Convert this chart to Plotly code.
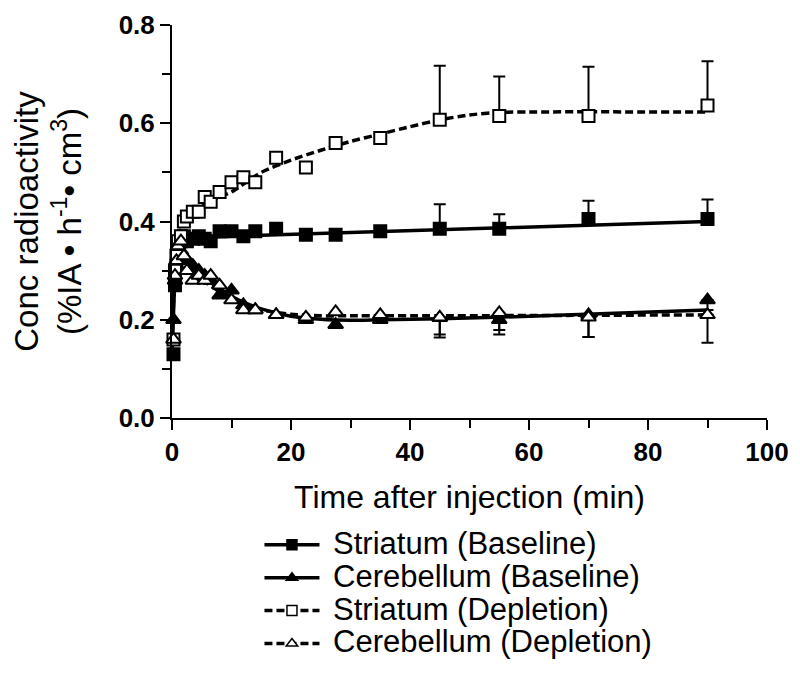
import plotly.graph_objects as go

# ---------------- data ----------------
t_pts = [0.25, 0.5, 0.75, 1, 1.5, 2, 2.5, 3.5, 4.5, 5.5, 6.5, 8, 10, 12, 14,
         17.5, 22.5, 27.5, 35, 45, 55, 70, 90]

str_base = [0.13, 0.27, 0.31, 0.34, 0.36, 0.37, 0.36, 0.365, 0.37, 0.365, 0.36,
            0.38, 0.38, 0.37, 0.38, 0.385, 0.373, 0.373, 0.38, 0.385, 0.385, 0.405, 0.405]
cer_base = [0.20, 0.28, 0.31, 0.33, 0.34, 0.33, 0.32, 0.31, 0.30, 0.29, 0.28,
            0.25, 0.26, 0.23, 0.22, 0.21, 0.20, 0.19, 0.20, 0.204, 0.20, 0.21, 0.24]
str_depl = [0.16, 0.30, 0.33, 0.36, 0.37, 0.40, 0.41, 0.42, 0.42, 0.45, 0.44,
            0.46, 0.48, 0.49, 0.48, 0.53, 0.51, 0.56, 0.57, 0.607, 0.615, 0.615, 0.636]
cer_depl = [0.16, 0.29, 0.32, 0.35, 0.36, 0.33, 0.30, 0.28, 0.29, 0.28, 0.29,
            0.27, 0.24, 0.22, 0.22, 0.21, 0.205, 0.216, 0.21, 0.205, 0.214, 0.205, 0.21]

# error bars (SD) at the last four time points
err_t = [45, 55, 70, 90]
str_base_err_up = [0.05, 0.03, 0.037, 0.04]
str_depl_err_up = [0.11, 0.08, 0.10, 0.09]
cer_base_err_dn = [0.04, 0.03, 0.045, 0.02]
cer_depl_err_dn = [0.035, 0.035, 0.04, 0.057]

# fitted curves
fit_str_base_t = [0, 0.5, 1, 1.5, 2, 4, 10, 90]
fit_str_base_y = [0.12, 0.28, 0.33, 0.35, 0.36, 0.366, 0.37, 0.40]
fit_str_depl_t = [0, 0.5, 1, 1.5, 2, 3, 5, 8, 10, 15, 20, 25, 30, 35, 40, 45, 50, 55, 60, 90]
fit_str_depl_y = [0.15, 0.30, 0.36, 0.385, 0.395, 0.41, 0.43, 0.45, 0.46, 0.50, 0.525,
                  0.545, 0.563, 0.578, 0.593, 0.607, 0.617, 0.622, 0.623, 0.623]
fit_cer_base_t = [0, 0.5, 1, 1.5, 2, 3, 4, 5, 6, 8, 10, 12, 15, 20, 25, 30, 35, 45, 60, 90]
fit_cer_base_y = [0.18, 0.30, 0.33, 0.335, 0.33, 0.315, 0.30, 0.29, 0.28, 0.263, 0.248,
                  0.236, 0.222, 0.207, 0.201, 0.199, 0.20, 0.202, 0.207, 0.22]
fit_cer_depl_t = [0, 0.5, 1, 1.5, 2, 3, 4, 5, 6, 8, 10, 12, 15, 20, 25, 30, 45, 90]
fit_cer_depl_y = [0.20, 0.31, 0.34, 0.34, 0.33, 0.31, 0.295, 0.283, 0.273, 0.257, 0.243,
                  0.232, 0.22, 0.211, 0.208, 0.208, 0.208, 0.21]

names = ["Striatum (Baseline)", "Cerebellum (Baseline)",
         "Striatum (Depletion)", "Cerebellum (Depletion)"]

x_ticks = [0, 20, 40, 60, 80, 100]
y_ticks = [0.0, 0.2, 0.4, 0.6, 0.8]

# ---------------- styling ----------------
FONT = "Liberation Sans, Arial, sans-serif"
LW = 3.5
DASH = "8px,4px"
MS_SQ = 12
MS_TRI = 13
LEG_TXT = 31  # legend text size (rows spaced by the legend font size)

series = [
    dict(name=names[0], y=str_base, ft=fit_str_base_t, fy=fit_str_base_y,
         sym="square", fill="black", dash="solid", ms=MS_SQ,
         err=str_base_err_up, up=True),
    dict(name=names[1], y=cer_base, ft=fit_cer_base_t, fy=fit_cer_base_y,
         sym="triangle-up", fill="black", dash="solid", ms=MS_TRI,
         err=cer_base_err_dn, up=False),
    dict(name=names[2], y=str_depl, ft=fit_str_depl_t, fy=fit_str_depl_y,
         sym="square", fill="white", dash=DASH, ms=MS_SQ,
         err=str_depl_err_up, up=True),
    dict(name=names[3], y=cer_depl, ft=fit_cer_depl_t, fy=fit_cer_depl_y,
         sym="triangle-up", fill="white", dash=DASH, ms=MS_TRI,
         err=cer_depl_err_dn, up=False),
]

fig = go.Figure()

# fitted lines
for s in series:
    fig.add_trace(go.Scatter(x=s["ft"], y=s["fy"], mode="lines",
                             line=dict(color="black", width=LW, dash=s["dash"], shape="spline", smoothing=0.6),
                             showlegend=False, hoverinfo="skip", cliponaxis=False))

# error bars
for s in series:
    n = len(err_t)
    zeros = [0] * n
    ey = dict(type="data", symmetric=False,
              array=s["err"] if s["up"] else zeros,
              arrayminus=zeros if s["up"] else s["err"],
              color="black", thickness=2, width=6)
    fig.add_trace(go.Scatter(x=err_t, y=s["y"][-n:], mode="markers",
                             marker=dict(size=s["ms"], opacity=0),
                             error_y=ey, showlegend=False, hoverinfo="skip"))

# data markers
for s in series:
    fig.add_trace(go.Scatter(x=t_pts, y=s["y"], mode="markers",
                             marker=dict(symbol=s["sym"], size=s["ms"], color=s["fill"],
                                         line=dict(color="black", width=2)),
                             showlegend=False, cliponaxis=False, name=s["name"]))

# legend entries
for s in series:
    fig.add_trace(go.Scatter(x=[None], y=[None], mode="lines+markers",
                             name=f'<span style="font-size:{LEG_TXT}px">&nbsp;{s["name"]}</span>',
                             line=dict(color="black", width=LW, dash=s["dash"]),
                             marker=dict(symbol=s["sym"], size=10, color=s["fill"],
                                         line=dict(color="black", width=1.5))))

axis_common = dict(showline=True, linecolor="black", linewidth=2, ticks="outside",
                   ticklen=10, tickwidth=2, tickcolor="black", showgrid=False,
                   zeroline=False, mirror=False, automargin=False,
                   tickfont=dict(family=FONT, size=26, color="black", weight="bold"))

fig.update_xaxes(range=[0, 100], tickvals=x_ticks, ticktext=[str(v) for v in x_ticks],
                 minor=dict(dtick=10, ticks="outside", ticklen=8, tickwidth=2, tickcolor="black"),
                 title=dict(text="Time after injection (min)",
                            font=dict(family=FONT, size=32, color="black"), standoff=19),
                 **axis_common)
fig.update_yaxes(range=[0, 0.8], tickvals=y_ticks, ticktext=[f"{v:.1f}" for v in y_ticks],
                 minor=dict(dtick=0.1, ticks="outside", ticklen=8, tickwidth=2, tickcolor="black"),
                 title=dict(text="Conc radioactivity<br>(%IA • h<sup>-1</sup>• cm<sup>3</sup>)",
                            font=dict(family=FONT, size=33, color="black"), standoff=39),
                 **axis_common)

# the page body adds an 8px margin, so the figure is 8px smaller and margins shifted
fig.update_layout(
    width=792, height=673, autosize=False,
    margin=dict(l=164, r=33, t=17, b=263, autoexpand=False),
    paper_bgcolor="white", plot_bgcolor="white",
    font=dict(family=FONT, color="black"),
    legend=dict(x=0.147, y=-0.268, xanchor="left", yanchor="top",
                font=dict(family=FONT, size=23, color="black"),
                itemwidth=55, tracegroupgap=0, bgcolor="rgba(0,0,0,0)"),
    showlegend=True,
)

fig.write_html("out.html")
